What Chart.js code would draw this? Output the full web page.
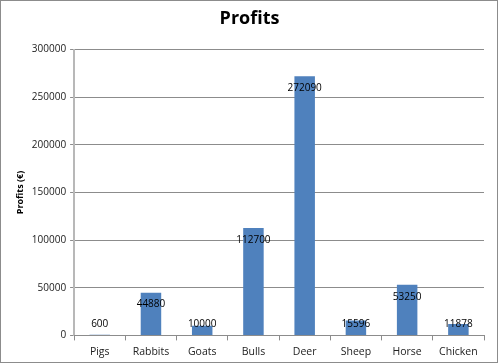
<!DOCTYPE html>
<html>
<head>
<meta charset="utf-8">
<script src="https://cdn.jsdelivr.net/npm/chart.js@4/dist/chart.umd.min.js"></script>
<style>
  html, body { margin: 0; padding: 0; background: #fff; }
  #wrap { width: 498px; height: 363px; }
</style>
</head>
<body>
<div id="wrap"><canvas id="profitChart" width="498" height="363"></canvas></div>
<script>
const animals = ['Pigs', 'Rabbits', 'Goats', 'Bulls', 'Deer', 'Sheep', 'Horse', 'Chicken'];
const profits = [600, 44880, 10000, 112700, 272090, 15596, 53250, 11878];
const yTicks = [0, 50000, 100000, 150000, 200000, 250000, 300000];

const fontFamily = "'Open Sans', 'Liberation Sans', sans-serif";

// white background + thin grey frame around the whole picture
const frame = {
  id: 'frame',
  beforeDraw(chart) {
    const ctx = chart.ctx;
    ctx.save();
    ctx.fillStyle = '#fff';
    ctx.fillRect(0, 0, chart.width, chart.height);
    ctx.strokeStyle = '#8c8c8c';
    ctx.lineWidth = 1;
    ctx.strokeRect(0.5, 0.5, chart.width - 1, chart.height - 1);
    ctx.restore();
  }
};

// value labels at the inside end of each bar, kept above the axis
const valueLabels = {
  id: 'valueLabels',
  afterDatasetsDraw(chart) {
    const ctx = chart.ctx;
    const meta = chart.getDatasetMeta(0);
    const bottom = chart.scales.y.bottom;
    ctx.save();
    ctx.font = '10px ' + fontFamily;
    ctx.fillStyle = '#000';
    ctx.textAlign = 'center';
    ctx.textBaseline = 'middle';
    meta.data.forEach((bar, i) => {
      const y = Math.min(bar.y + 12, bottom - 11);
      ctx.fillText(String(profits[i]), bar.x, y);
    });
    ctx.restore();
  }
};

new Chart(document.getElementById('profitChart').getContext('2d'), {
  type: 'bar',
  data: {
    labels: animals,
    datasets: [{
      label: 'Profits',
      data: profits,
      backgroundColor: '#4f81bd',
      borderWidth: 0,
      categoryPercentage: 1,
      barPercentage: 0.4,
    }],
  },
  options: {
    responsive: false,
    animation: false,
    layout: {
      padding: { left: 15, right: 14, top: 8, bottom: 0 },
    },
    scales: {
      y: {
        min: 0,
        max: 300000,
        afterBuildTicks: (axis) => { axis.ticks = yTicks.map(v => ({ value: v })); },
        ticks: {
          color: '#222',
          font: { family: fontFamily, size: 10 },
          padding: 4,
          callback: (v) => String(v),
        },
        grid: {
          color: '#8c8c8c',
          drawTicks: true,
          tickLength: 4,
        },
        border: { color: '#b8b8b8', width: 2 },
        title: {
          display: true,
          text: 'Profits (€)',
          color: '#000',
          font: { family: fontFamily, size: 9, weight: 'bold' },
          padding: { top: 0, bottom: 2 },
        },
      },
      x: {
        offset: true,
        ticks: {
          color: '#222',
          font: { family: fontFamily, size: 10.5 },
          padding: 5,
        },
        grid: {
          offset: true,
          drawOnChartArea: false,
          drawTicks: true,
          tickLength: 5,
          color: '#8c8c8c',
        },
        border: { color: '#8c8c8c', width: 1 },
      },
    },
    plugins: {
      legend: { display: false },
      tooltip: { enabled: false },
      title: {
        display: true,
        text: 'Profits',
        color: '#000',
        font: { family: fontFamily, size: 18, weight: 'bold' },
        padding: { top: 0, bottom: 20 },
      },
    },
  },
  plugins: [frame, valueLabels],
});
</script>
</body>
</html>
